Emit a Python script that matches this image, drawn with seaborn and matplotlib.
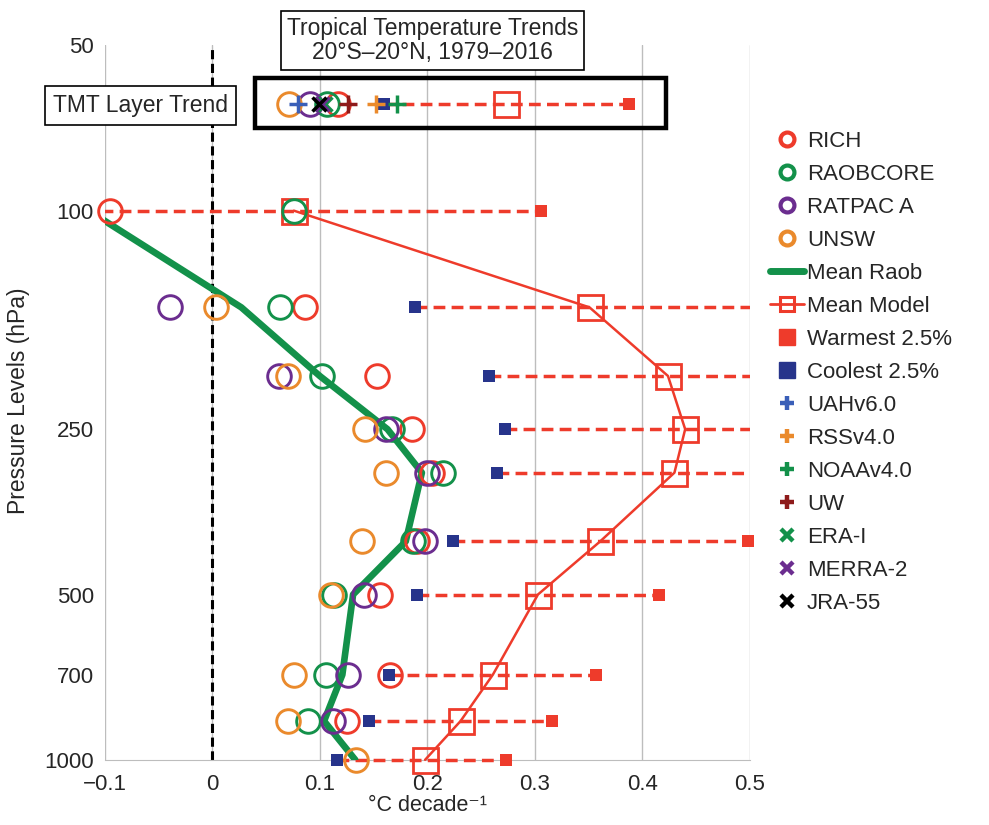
import numpy as np
import pandas as pd
import matplotlib.pyplot as plt
import seaborn as sns
from matplotlib.lines import Line2D
from matplotlib.patches import Rectangle

nan = np.nan

# Pressure levels (hPa)
levels = [100, 150, 200, 250, 300, 400, 500, 700, 850, 1000]

# Radiosonde trends (degC / decade)
rich = [-0.095, 0.086, 0.153, 0.186, 0.204, 0.190, 0.156, 0.165, 0.125, nan]
raobcore = [0.076, 0.063, 0.102, 0.167, 0.215, 0.187, 0.113, 0.106, 0.089, nan]
ratpac = [nan, -0.039, 0.062, 0.162, 0.200, 0.198, 0.141, 0.126, 0.112, nan]
unsw = [nan, 0.003, 0.070, 0.142, 0.162, 0.139, 0.110, 0.076, 0.070, 0.134]
mean_raob = [-0.115, 0.027, 0.100, 0.163, 0.195, 0.180, 0.131, 0.121, 0.104, 0.133]

# Model trends
mean_model = [0.076, 0.351, 0.424, 0.440, 0.430, 0.361, 0.303, 0.261, 0.231, 0.198]
warmest = [0.306, 0.56, 0.60, 0.60, 0.56, 0.498, 0.416, 0.357, 0.316, 0.273]
coolest = [-0.12, 0.189, 0.257, 0.272, 0.265, 0.224, 0.190, 0.164, 0.146, 0.116]

# TMT layer trend row
tmt_level = 64
tmt_circles = {"RICH": 0.117, "RAOBCORE": 0.107, "RATPAC A": 0.091, "UNSW": 0.071}
tmt_sats = {"UAHv6.0": 0.080, "RSSv4.0": 0.152, "NOAAv4.0": 0.172, "UW": 0.126}
tmt_rean = {"ERA-I": 0.105, "MERRA-2": 0.102, "JRA-55": 0.099}
tmt_mean_model = 0.273
tmt_warmest = 0.388
tmt_coolest = 0.160

RED = "#ee3b2b"
GREEN = "#13914a"
PURPLE = "#6b2d8f"
ORANGE = "#ea8a2c"
NAVY = "#27348b"
BLUE = "#3a5fb8"
DKRED = "#8e1b1b"

circle_colors = {"RICH": RED, "RAOBCORE": GREEN, "RATPAC A": PURPLE, "UNSW": ORANGE}
sat_colors = {"UAHv6.0": BLUE, "RSSv4.0": ORANGE, "NOAAv4.0": GREEN, "UW": DKRED}
rean_colors = {"ERA-I": GREEN, "MERRA-2": PURPLE, "JRA-55": "black"}

XMIN, XMAX = -0.1, 0.5


def in_range(vals):
    # markers drawn unclipped, so hide the ones outside the x range
    v = np.array(vals, dtype=float)
    v[(v < XMIN - 1e-9) | (v > XMAX + 1e-9)] = np.nan
    return list(v)


sns.set_style("white")
plt.rcParams["font.family"] = ["Liberation Sans", "DejaVu Sans"]

fig = plt.figure(figsize=(9.89, 8.25), dpi=100)
ax = fig.add_axes([0.106, 0.079, 0.652, 0.866])

# dashed coolest-to-warmest ranges
for lev, c, w in zip(levels + [tmt_level], coolest + [tmt_coolest], warmest + [tmt_warmest]):
    inside = XMIN <= c and w <= XMAX
    sns.lineplot(x=[c, w], y=[lev, lev], sort=False, estimator=None, color=RED,
                 lw=2.5, dashes=(3.4, 1.8), ax=ax, zorder=2.7, clip_on=not inside)

# warmest / coolest squares
sns.lineplot(x=in_range(warmest + [tmt_warmest]), y=levels + [tmt_level], sort=False,
             estimator=None, ls="none", marker="s", ms=8.5, mfc=RED, mec=RED, mew=0,
             ax=ax, zorder=3, clip_on=False)
sns.lineplot(x=in_range(coolest + [tmt_coolest]), y=levels + [tmt_level], sort=False,
             estimator=None, ls="none", marker="s", ms=8.5, mfc=NAVY, mec=NAVY, mew=0,
             ax=ax, zorder=3, clip_on=False)

# mean model profile
sns.lineplot(x=mean_model, y=levels, sort=False, estimator=None, color=RED, lw=1.8,
             marker="s", ms=18, mfc="none", mec=RED, mew=2, ax=ax, zorder=4, clip_on=False)
sns.lineplot(x=[tmt_mean_model], y=[tmt_level], sort=False, estimator=None, ls="none",
             marker="s", ms=18, mfc="none", mec=RED, mew=2, ax=ax, zorder=4)

# mean raob profile
sns.lineplot(x=mean_raob, y=levels, sort=False, estimator=None, color=GREEN, lw=4.8,
             ax=ax, zorder=5)

# individual radiosonde datasets
raob = {"RICH": rich, "RAOBCORE": raobcore, "RATPAC A": ratpac, "UNSW": unsw}
for name, vals in raob.items():
    sns.lineplot(x=in_range(vals + [tmt_circles[name]]), y=levels + [tmt_level], sort=False,
                 estimator=None, ls="none", marker="o", ms=17, mfc="none",
                 mec=circle_colors[name], mew=2.1, ax=ax, zorder=6, clip_on=False)

# satellites and reanalyses on TMT row
for name, v in tmt_sats.items():
    sns.lineplot(x=[v], y=[tmt_level], sort=False, estimator=None, ls="none",
                 marker="+", ms=13, mec=sat_colors[name], mew=2.5, ax=ax, zorder=7)
for name, v in tmt_rean.items():
    sns.lineplot(x=[v], y=[tmt_level], sort=False, estimator=None, ls="none",
                 marker="x", ms=10, mec=rean_colors[name], mew=2.5, ax=ax, zorder=7)

# zero line
ax.axvline(0, color="black", lw=2.2, ls=(0, (3, 1.5)), zorder=1)

ax.set_yscale("log")
ax.set_ylim(1000, 50)
ax.set_yticks([50, 100, 250, 500, 700, 1000])
ax.set_yticklabels(["50", "100", "250", "500", "700", "1000"])
ax.yaxis.set_minor_locator(plt.NullLocator())
ax.set_xlim(XMIN, XMAX)
ax.set_xticks([-0.1, 0, 0.1, 0.2, 0.3, 0.4, 0.5])
ax.set_xticklabels(["\u22120.1", "0", "0.1", "0.2", "0.3", "0.4", "0.5"])
ax.tick_params(labelsize=16, length=0)
ax.tick_params(axis="x", pad=10)
ax.tick_params(axis="y", pad=8)
ax.xaxis.grid(True, color="#bdbdbd", lw=1)
ax.yaxis.grid(False)
for s in ["top", "right", "left"]:
    ax.spines[s].set_visible(False)
ax.spines["bottom"].set_color("#bdbdbd")

ax.set_xlabel("\u00b0C decade\u207b\u00b9", fontsize=15.5, labelpad=0)
ax.set_ylabel("Pressure Levels (hPa)", fontsize=16.5)
ax.yaxis.set_label_coords(-0.116, 0.502)

# text boxes
fig.text(0.437, 0.951, "Tropical Temperature Trends\n20\u00b0S\u201320\u00b0N, 1979\u20132016",
         ha="center", va="center", fontsize=16.5, linespacing=1.05,
         bbox=dict(boxstyle="square,pad=0.25", fc="white", ec="black", lw=1.2))
fig.text(0.142, 0.872, "TMT Layer Trend", ha="center", va="center", fontsize=16.5,
         bbox=dict(boxstyle="square,pad=0.35", fc="white", ec="black", lw=1.2))
fig.add_artist(Rectangle((0.258, 0.845), 0.415, 0.061, transform=fig.transFigure,
                         fill=False, ec="black", lw=3.2))

# legend
handles = []
for name in ["RICH", "RAOBCORE", "RATPAC A", "UNSW"]:
    handles.append(Line2D([], [], ls="none", marker="o", ms=10, mfc="none",
                          mec=circle_colors[name], mew=3, label=name))
handles.append(Line2D([], [], color=GREEN, lw=5, label="Mean Raob"))
handles.append(Line2D([], [], color=RED, lw=2, marker="s", ms=10, mfc="none", mec=RED,
                      mew=2.2, label="Mean Model"))
handles.append(Line2D([], [], ls="none", marker="s", ms=11, mfc=RED, mec=RED,
                      label="Warmest 2.5%"))
handles.append(Line2D([], [], ls="none", marker="s", ms=11, mfc=NAVY, mec=NAVY,
                      label="Coolest 2.5%"))
for name, c in sat_colors.items():
    handles.append(Line2D([], [], ls="none", marker="+", ms=10, mec=c, mew=3.2, label=name))
for name, c in rean_colors.items():
    handles.append(Line2D([], [], ls="none", marker="x", ms=8.5, mec=c, mew=3.2, label=name))

fig.legend(handles=handles, loc="upper left", bbox_to_anchor=(0.770, 0.852), frameon=False,
           fontsize=16, labelspacing=0.54, handlelength=1.5, handletextpad=0.15,
           borderaxespad=0)

plt.savefig("out.png", dpi=100)
